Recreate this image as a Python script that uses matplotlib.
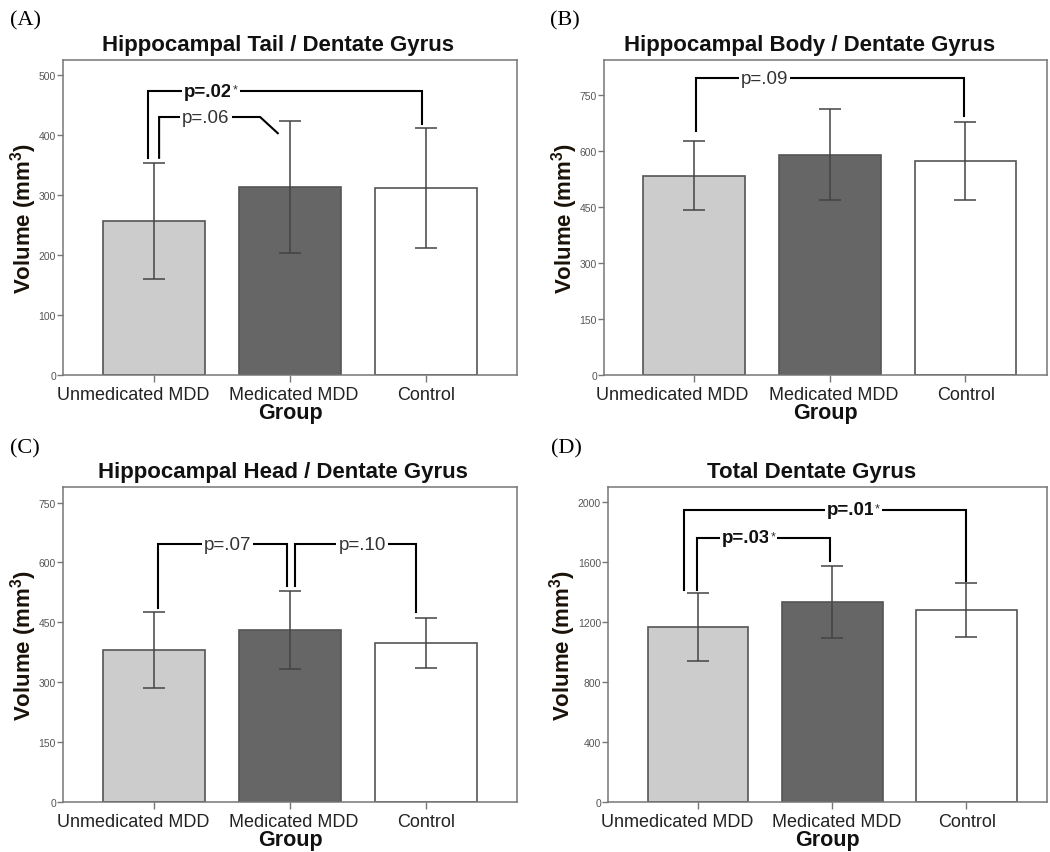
import matplotlib
matplotlib.use("Agg")
import matplotlib.pyplot as plt

plt.rcParams['font.family'] = ['Liberation Sans', 'DejaVu Sans']
plt.rcParams['mathtext.fontset'] = 'custom'
plt.rcParams['mathtext.rm'] = 'Liberation Sans'
plt.rcParams['mathtext.bf'] = 'Liberation Sans:bold'

# ---------------- data ----------------
groups = ['Unmedicated MDD', 'Medicated MDD', 'Control']

tail_mean = [257, 314, 311]
tail_err = [97, 110, 100]
body_mean = [533, 590, 572]
body_err = [92, 121, 105]
head_mean = [380, 431, 398]
head_err = [95, 98, 63]
total_mean = [1167, 1334, 1278]
total_err = [225, 242, 180]

tail_ticks = [0, 100, 200, 300, 400, 500]
body_ticks = [0, 150, 300, 450, 600, 750]
head_ticks = [0, 150, 300, 450, 600, 750]
total_ticks = [0, 400, 800, 1200, 1600, 2000]

titles = ['Hippocampal Tail / Dentate Gyrus', 'Hippocampal Body / Dentate Gyrus',
          'Hippocampal Head / Dentate Gyrus', 'Total Dentate Gyrus']
panel_labels = ['(A)', '(B)', '(C)', '(D)']

# p-value brackets: (x_left, x_right, y_bar, y_left_end, y_right_end, label, significant, text_x)
tail_brackets = [(-0.044, 1.97, 473, 362, 418, 'p=.02', True, 0.40),
                 (0.037, 0.78, 430, 362, None, 'p=.06', False, 0.38)]
body_brackets = [(0.02, 1.99, 794, 652, 694, 'p=.09', False, 0.52)]
head_brackets = [(0.03, 0.98, 645, 487, 541, 'p=.07', False, 0.54),
                 (1.04, 1.93, 645, 541, 475, 'p=.10', False, 1.53)]
total_brackets = [(-0.106, 2.0, 1947, 1416, 1476, 'p=.01', True, 1.14),
                  (-0.005, 0.98, 1761, 1416, 1610, 'p=.03', True, 0.36)]

# ---------------- style ----------------
bar_colors = ['#cccccc', '#666666', '#ffffff']
label_shift = [-0.155, 0.03, 0.004]   # category label offsets (to avoid overlap, as in original)
W, H = 1050, 853
fig = plt.figure(figsize=(W / 100, H / 100), dpi=100)

def frac_box(l, r, t, b):
    return [l / W, 1 - b / H, (r - l) / W, (b - t) / H]

panels = [
    dict(box=frac_box(63, 517, 61, 376), mean=tail_mean, err=tail_err, ticks=tail_ticks,
         ylim=525, xlim=(-0.67, 2.67), br=tail_brackets, tx=0.474, lab=(10, 21)),
    dict(box=frac_box(604, 1047, 61, 376), mean=body_mean, err=body_err, ticks=body_ticks,
         ylim=843, xlim=(-0.66, 2.6), br=body_brackets, tx=0.464, lab=(550, 21)),
    dict(box=frac_box(63, 517, 488, 803), mean=head_mean, err=head_err, ticks=head_ticks,
         ylim=789, xlim=(-0.67, 2.67), br=head_brackets, tx=0.484, lab=(10, 449)),
    dict(box=frac_box(608, 1047, 488, 803), mean=total_mean, err=total_err, ticks=total_ticks,
         ylim=2100, xlim=(-0.67, 2.6), br=total_brackets, tx=0.464, lab=(551, 449)),
]

for i, p in enumerate(panels):
    ax = fig.add_axes(p['box'])
    x = list(range(len(groups)))
    ax.bar(x, p['mean'], width=0.75, color=bar_colors, edgecolor='#555555', linewidth=1.2, zorder=2)
    ax.errorbar(x, p['mean'], yerr=p['err'], fmt='none', ecolor='#444444', elinewidth=1.1,
                capsize=8, capthick=1.1, zorder=3)
    ax.set_xlim(*p['xlim'])
    ax.set_ylim(0, p['ylim'])
    ax.set_yticks(p['ticks'])
    # tick marks at category centres, labels on shifted minor ticks
    ax.set_xticks(x)
    ax.set_xticklabels([])
    ax.set_xticks([xi + d for xi, d in zip(x, label_shift)], minor=True)
    ax.set_xticklabels(groups, minor=True, fontsize=13, color='#222222')
    ax.tick_params(axis='x', which='minor', length=0, pad=8)
    ax.tick_params(axis='y', labelsize=7.5, labelcolor='#555555', color='#777777', length=4, width=1, pad=1)
    ax.tick_params(axis='x', which='major', color='#777777', length=5, width=1, pad=4)
    for s in ax.spines.values():
        s.set_color('#777777')
        s.set_linewidth(1.1)
    ax.set_xlabel('Group', fontsize=15.5, fontweight='bold', labelpad=-1, color='#111111')
    ax.set_ylabel('Volume (mm$^{\\mathbf{3}}$)', fontsize=16, fontweight='bold', labelpad=0, color='#1a1208')
    ax.annotate(titles[i], xy=(p['tx'], 1.0), xycoords='axes fraction', xytext=(0, 7),
                textcoords='offset points', ha='center', va='baseline', fontsize=16,
                fontweight='bold', color='#111111')
    fig.text(p['lab'][0] / W, 1 - p['lab'][1] / H, panel_labels[i], fontsize=16,
             family='Liberation Serif', va='center', ha='left')

    # brackets
    for (xl, xr, yb, yle, yre, lab, sig, tx) in p['br']:
        if yre is None:
            # tail p=.06 bracket with diagonal end
            ax.plot([xl, xl, xr, 0.91], [yle, yb, yb, 403], color='black', lw=1.5, zorder=4,
                    solid_joinstyle='miter')
        else:
            ax.plot([xl, xl, xr, xr], [yle, yb, yb, yre], color='black', lw=1.5, zorder=4,
                    solid_joinstyle='miter')
        t = ax.text(tx, yb, lab, ha='center', va='center', fontsize=13.5,
                    fontweight='bold' if sig else 'normal', color='#111111' if sig else '#333333',
                    zorder=5, bbox=dict(facecolor='white', edgecolor='none', pad=1.5))
        if sig:
            ax.annotate('*', xy=(1, 0.95), xycoords=t, ha='left', va='top', fontsize=9,
                        color='#333333', zorder=5,
                        bbox=dict(facecolor='white', edgecolor='none', pad=1.5))

fig.savefig('out.png', dpi=100)
